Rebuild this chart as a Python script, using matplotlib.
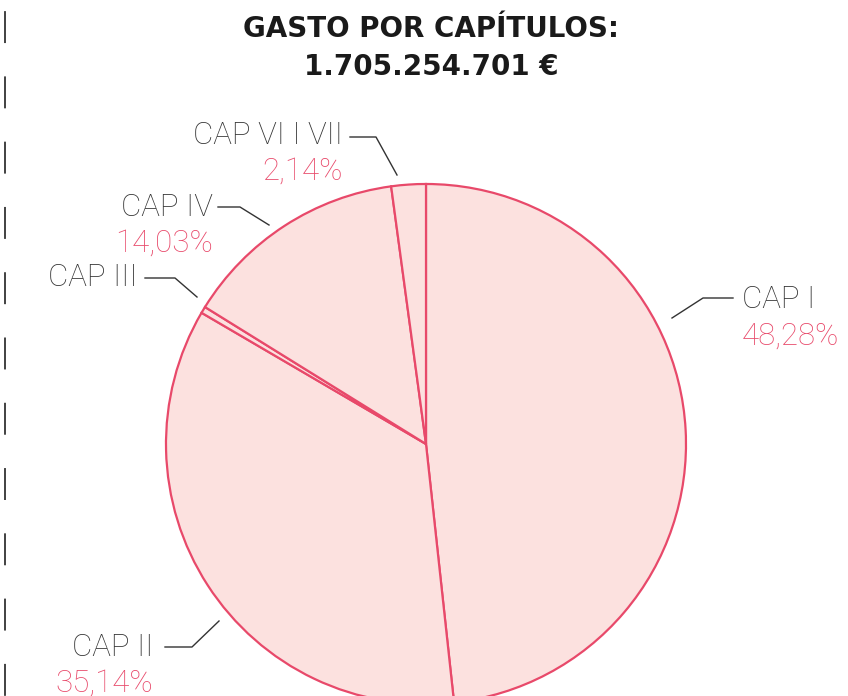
import matplotlib.pyplot as plt

plt.rcParams['lines.scale_dashes'] = False

labels = ['CAP I', 'CAP II', 'CAP III', 'CAP IV', 'CAP VI I VII']
values = [48.28, 35.14, 0.41, 14.03, 2.14]
pct_text = ['48,28%', '35,14%', '', '14,03%', '2,14%']

red = '#e8496a'
fill = '#fce1df'
dark = '#333333'
lab_font = 'Roboto'

fig = plt.figure(figsize=(8.48, 6.96), dpi=100)
ax = fig.add_axes([0, 0, 1, 1])

ax.pie(values, startangle=90, counterclock=False, center=(426, 252), radius=260,
       colors=[fill] * len(values),
       wedgeprops=dict(edgecolor=red, linewidth=1.6))
ax.set_xlim(0, 848)
ax.set_ylim(0, 696)
ax.axis('off')

# left dashed rule
ax.plot([5, 5], [696, 0], color=dark, lw=1.3, linestyle=(-8, (23, 24)))

# title
fig.text(431 / 848, 1 - 29 / 696, 'GASTO POR CAPÍTULOS:', ha='center', va='center',
         fontsize=20, fontweight='bold', family='DejaVu Sans', color='#1a1a1a')
fig.text(431 / 848, 1 - 67 / 696, '1.705.254.701 €', ha='center', va='center',
         fontsize=20, fontweight='bold', family='DejaVu Sans', color='#1a1a1a')

# label layout (pixel coords from top): text anchor, leader points
layout = {
    'CAP I': dict(xy=(742, 300), ha='left', line=[(733, 298), (703, 298), (672, 318)]),
    'CAP II': dict(xy=(153, 647), ha='right', line=[(165, 647), (192, 647), (219, 621)]),
    'CAP III': dict(xy=(137, 278), ha='right', line=[(145, 278), (175, 278), (197, 297)]),
    'CAP IV': dict(xy=(213, 207), ha='right', line=[(218, 207), (240, 207), (269, 225)]),
    'CAP VI I VII': dict(xy=(343, 135), ha='right', line=[(350, 137), (376, 137), (397, 175)]),
}

for lab, pct in zip(labels, pct_text):
    d = layout[lab]
    x, y = d['xy']
    ax.text(x, 696 - y, lab, ha=d['ha'], va='center', fontsize=22.5,
            family=lab_font, fontweight='light', color=dark)
    if pct:
        ax.text(x, 696 - y - 36, pct, ha=d['ha'], va='center', fontsize=22.5,
                family=lab_font, fontweight='light', color=red)
    xs = [p[0] for p in d['line']]
    ys = [696 - p[1] for p in d['line']]
    ax.plot(xs, ys, color=dark, lw=1.0)

fig.savefig('out.png', dpi=100)
